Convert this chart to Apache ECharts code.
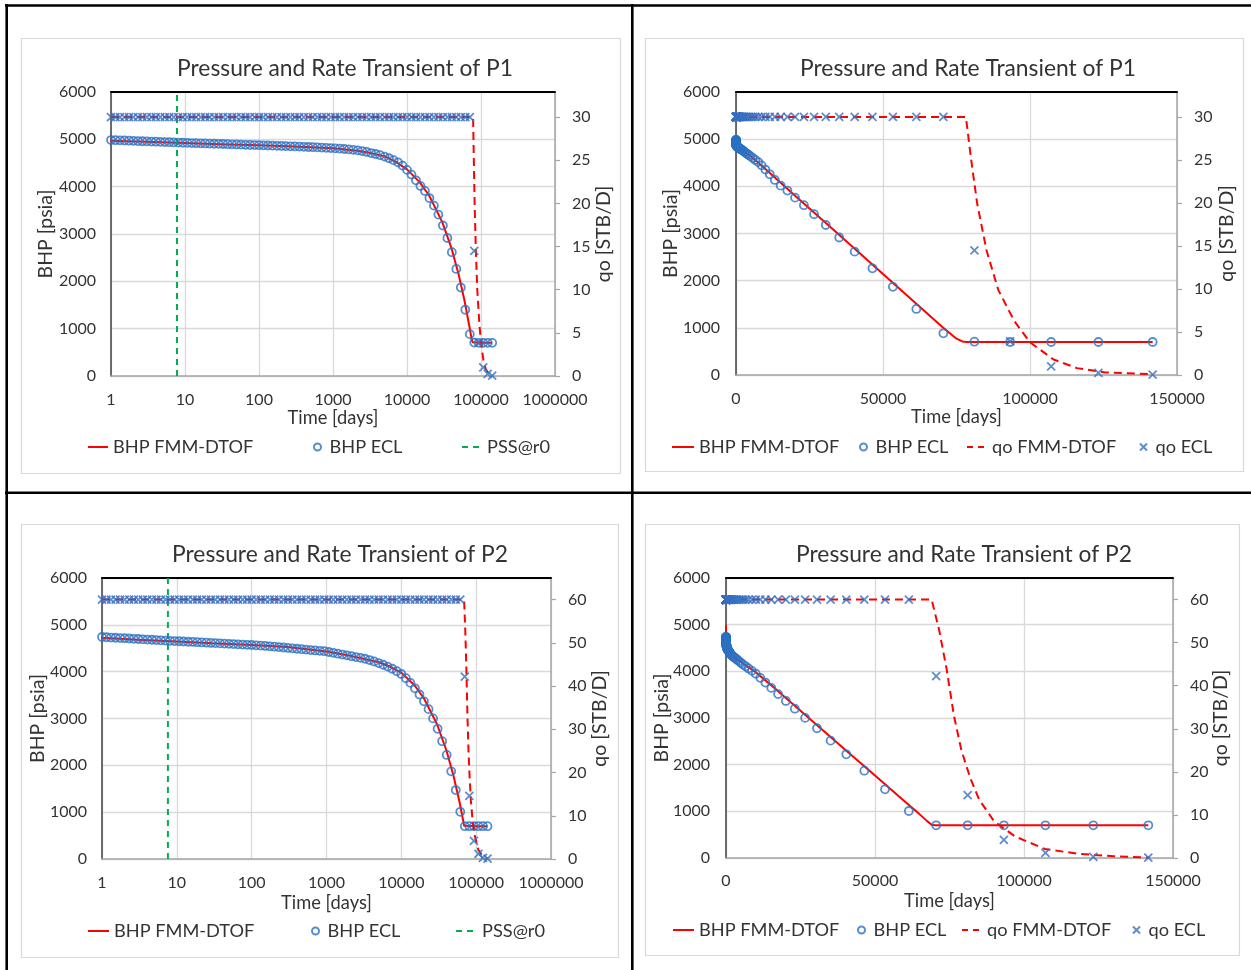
<!DOCTYPE html>
<html><head><meta charset="utf-8">
<script src="https://cdn.jsdelivr.net/npm/echarts@6/dist/echarts.min.js"></script>
<style>html,body{margin:0;padding:0;background:#fff}#c{width:1251px;height:970px}</style>
</head><body><div id="c"></div>
<script>
// ---- ECL report times [days] (shared by both wells) ----
const timeECL = [1,1.15,1.322,1.52,1.748,2.009,2.31,2.656,3.054,3.511,4.037,4.641,5.336,6.136,7.054,8.111,9.325,10.72,12.33,14.17,16.3,18.74,21.54,24.77,28.48,32.74,37.65,43.28,49.77,57.22,65.79,75.64,86.97,99.99,115,132.2,152,174.7,200.9,231,265.6,305.3,351.1,403.6,464.1,533.6,613.5,705.4,811,932.4,1072,1233,1417,1630,1874,2154,2477,2848,3274,3764,4328,4976,5721,6578,7563,8696,9998,11495,13217,15196,17472,20088,23097,26556,30532,35105,40362,46406,53356,61346,70533,81096,93240,107203,123257,141715];

// ---- P1 ----
const p1BhpECL = [4985,4982,4978,4975,4971,4968,4964,4960,4957,4953,4950,4946,4942,4939,4935,4932,4928,
  4925,4922,4919,4916,4913,4910,4907,4904,4901,4897,4894,4891,4888,4885,4882,4879,4876,
  4873,4870,4867,4863,4860,4857,4853,4850,4846,4842,4838,4834,4830,4825,4820,4815,
  4809,4803,4796,4788,4778,4766,4752,4733,
  4710,4690,4665,4635,4600,4560,4515,4445,4355,4255,4135,4015,3910,3760,3600,3410,3180,2915,2615,2262,1870,1400,884,706,700,700,700,700];
const p1QoECL = [30,30,30,30,30,30,30,30,30,30, 30,30,30,30,30,30,30,30,30,30,
  30,30,30,30,30,30,30,30,30,30, 30,30,30,30,30,30,30,30,30,30,
  30,30,30,30,30,30,30,30,30,30, 30,30,30,30,30,30,30,30,30,30,
  30,30,30,30,30,30,30,30,30,30, 30,30,30,30,30,30,30,30,30,30,
  30,14.5,3.9,1.0,0.25,0.05];
const p1FmmBhpTime = [0.01,1,3,10,30,100,300,1000,2000,3000,5000,7000,10000,15000,20000,30000,40000,50000,60000,70000,75000,77000,78500,100000,141715];
const p1FmmBhp     = [5000,4968,4948,4922,4898,4873,4849,4812,4765,4722,4640,4530,4365,4085,3808,3252,2696,2140,1584,1030,770,712,700,700,700];
const p1FmmQoTime  = [1,78200,80000,82000,85200,89200,94600,100000,108000,116000,125500,141700];
const p1FmmQo      = [30,30,25,20,14.5,9.9,6.3,3.8,1.8,0.8,0.3,0.1];
const p1PssTime = 7.8;

// ---- P2 ----
const p2BhpECL = [4740,4735,4729,4724,4718,4713,4708,4702,4697,4691,4686,4681,4675,4670,4664,4659,4654,
  4649,4644,4639,4634,4629,4624,4619,4614,4609,4604,4599,4594,4589,4584,4579,4574,4569,
  4563,4556,4549,4541,4533,4525,4516,4507,4498,4489,4480,4471,4462,4453,4445,4437,
  4420,4402,4384,4366,4348,4330,4312,4294,
  4276,4248,4218,4184,4148,4108,4062,4010,3950,3860,3760,3645,3512,3366,3200,3002,2780,2515,2222,1871,1472,1007,700,700,700,700,700,700];
const p2QoECL = [60,60,60,60,60,60,60,60,60,60, 60,60,60,60,60,60,60,60,60,60,
  60,60,60,60,60,60,60,60,60,60, 60,60,60,60,60,60,60,60,60,60,
  60,60,60,60,60,60,60,60,60,60, 60,60,60,60,60,60,60,60,60,60,
  60,60,60,60,60,60,60,60,60,60, 60,60,60,60,60,60,60,60,60,60,
  42.2,14.6,4.2,1.2,0.25,0.1];
const p2FmmBhpTime = [0.01,1,3,10,30,100,300,1000,2000,3000,5000,7000,10000,15000,20000,30000,40000,50000,60000,65000,67500,69000,70000,100000,141715];
const p2FmmBhp     = [5000,4722,4683,4645,4607,4568,4525,4430,4345,4282,4200,4110,3980,3710,3432,2878,2322,1767,1212,935,790,712,700,700,700];
const p2FmmQoTime  = [1,69000,71500,74000,76500,79000,82000,85000,90000,97000,107000,118000,130000,142000];
const p2FmmQo      = [60,60,53,44,33,25,18.5,13.5,8.5,5,2.1,1.0,0.4,0.1];
const p2PssTime = 7.6;

// ---- axis limits ----
const bhpAxis = {min:0, max:6000, interval:1000};
const logTime = {min:1, max:1000000};
const linTime = {min:0, max:150000, interval:50000};
const qoAxisP1 = {min:0, max:32.9, interval:5};
const qoAxisP2 = {min:0, max:65, interval:10};

const pairs = (t, v) => t.map((x, i) => [x, v[i]]);
const FONT = 'Lato';
const TXT = '#333';
const RED = '#FF0000', BLUE = '#2B72C2', XBLUE = '#3670C2', GREEN = '#00B050';
const CROSS = 'path://M0,0L10,10M10,0L0,10';

const panels = [
  {well:'P1', log:true,  grid:{left:111, top:92, width:444, height:284}, titleX:345, titleY:69, qo:qoAxisP1,
   bhpT:p1FmmBhpTime, bhp:p1FmmBhp, qoT:p1FmmQoTime, qoV:p1FmmQo, eB:p1BhpECL, eQ:p1QoECL, pss:p1PssTime,
   gapL:55, gapR:39, gapX:33, mL:15, mR:17, mX:16},
  {well:'P1', log:false, grid:{left:736, top:92, width:441, height:283}, titleX:968, titleY:69, qo:qoAxisP1,
   bhpT:p1FmmBhpTime, bhp:p1FmmBhp, qoT:p1FmmQoTime, qoV:p1FmmQo, eB:p1BhpECL, eQ:p1QoECL,
   gapL:55, gapR:40, gapX:33, mL:16, mR:17, mX:16},
  {well:'P2', log:true,  grid:{left:102, top:578, width:449, height:281}, titleX:340, titleY:555, qo:qoAxisP2,
   bhpT:p2FmmBhpTime, bhp:p2FmmBhp, qoT:p2FmmQoTime, qoV:p2FmmQo, eB:p2BhpECL, eQ:p2QoECL, pss:p2PssTime,
   gapL:54, gapR:39, gapX:35, mL:15, mR:17, mX:16},
  {well:'P2', log:false, grid:{left:726, top:578, width:447, height:280}, titleX:964, titleY:555, qo:qoAxisP2,
   bhpT:p2FmmBhpTime, bhp:p2FmmBhp, qoT:p2FmmQoTime, qoV:p2FmmQo, eB:p2BhpECL, eQ:p2QoECL,
   gapL:54, gapR:38, gapX:34, mL:16, mR:17, mX:15}
];

const fmtNum = v => String(Number(Number(v).toPrecision(6)));

const grid = [], xAxis = [], yAxis = [], series = [], title = [];
panels.forEach((p, i) => {
  grid.push(Object.assign({containLabel:false, outerBoundsMode:'none'}, p.grid));
  title.push({text:'Pressure and Rate Transient of ' + p.well, left:p.titleX, top:p.titleY,
    textAlign:'center', textVerticalAlign:'middle', padding:0,
    textStyle:{fontFamily:FONT, fontSize:22.8, fontWeight:'normal', color:TXT}});
  const xa = {gridIndex:i, position:'bottom', name:'Time [days]', nameLocation:'middle', nameGap:p.gapX,
    nameMoveOverlap:false,
    nameTextStyle:{fontFamily:FONT, fontSize:18.3, color:TXT},
    axisLine:{show:true, onZero:false, lineStyle:{color:'#A6A6A6', width:1.5}},
    axisTick:{show:false},
    axisLabel:{margin:p.mX, fontFamily:FONT, fontSize:16, color:TXT, formatter:fmtNum},
    splitLine:{show:true, lineStyle:{color:'#D9D9D9', width:1.3}}};
  if (p.log) Object.assign(xa, {type:'log', logBase:10, min:logTime.min, max:logTime.max});
  else Object.assign(xa, {type:'value', min:linTime.min, max:linTime.max, interval:linTime.interval});
  xAxis.push(xa);
  xAxis.push({gridIndex:i, type:'value', position:'top', min:0, max:1,
    axisLine:{show:true, onZero:false, lineStyle:{color:'#000', width:2}},
    axisTick:{show:false}, axisLabel:{show:false}, splitLine:{show:false}});
  yAxis.push({gridIndex:i, type:'value', position:'left', min:bhpAxis.min, max:bhpAxis.max, interval:bhpAxis.interval,
    name:'BHP [psia]', nameLocation:'middle', nameGap:p.gapL, nameRotate:90, nameMoveOverlap:false,
    nameTextStyle:{fontFamily:FONT, fontSize:19.5, color:TXT},
    axisLine:{show:true, onZero:false, lineStyle:{color:'#404040', width:1.5}},
    axisTick:{show:false},
    axisLabel:{margin:p.mL, fontFamily:FONT, fontSize:16, color:TXT, formatter:fmtNum},
    splitLine:{show:true, lineStyle:{color:'#D9D9D9', width:1.3}}});
  yAxis.push({gridIndex:i, type:'value', position:'right', min:p.qo.min, max:p.qo.max, interval:p.qo.interval,
    name:'qo [STB/D]', nameLocation:'middle', nameGap:p.gapR, nameRotate:90, nameMoveOverlap:false,
    nameTextStyle:{fontFamily:FONT, fontSize:19.5, color:TXT},
    axisLine:{show:true, onZero:false, lineStyle:{color:'#A6A6A6', width:1.5}},
    axisTick:{show:true, inside:false, length:5, lineStyle:{color:'#A6A6A6', width:1.2}},
    axisLabel:{margin:p.mR, fontFamily:FONT, fontSize:16, color:TXT, formatter:fmtNum, showMaxLabel:false},
    splitLine:{show:false}});
  const xi = 2*i, yl = 2*i, yr = 2*i+1;
  series.push({name:'BHP FMM-DTOF', type:'line', xAxisIndex:xi, yAxisIndex:yl, data:pairs(p.bhpT, p.bhp),
    symbol:'none', showSymbol:false, lineStyle:{color:RED, width:2}, itemStyle:{color:RED}, z:3});
  series.push({name:'BHP ECL', type:'scatter', xAxisIndex:xi, yAxisIndex:yl, data:pairs(timeECL, p.eB),
    symbol:'circle', symbolSize:8, itemStyle:{color:'rgba(0,0,0,0)', borderColor:BLUE, borderWidth:1.8}, z:4});
  if (p.pss !== undefined) {
    series.push({name:'PSS@r0', type:'line', xAxisIndex:xi, yAxisIndex:yl, data:[[p.pss, bhpAxis.min],[p.pss, bhpAxis.max]],
      symbol:'none', showSymbol:false, lineStyle:{color:GREEN, width:2, type:[6,5]}, itemStyle:{color:GREEN}, z:3});
  }
  series.push({name:'qo FMM-DTOF', type:'line', xAxisIndex:xi, yAxisIndex:yr, data:pairs(p.qoT, p.qoV),
    symbol:'none', showSymbol:false, lineStyle:{color:RED, width:2, type:[8,5]}, itemStyle:{color:RED}, z:5});
  series.push({name:'qo ECL', type:'scatter', xAxisIndex:xi, yAxisIndex:yr, data:pairs(timeECL, p.eQ),
    symbol:CROSS, symbolSize:8, itemStyle:{color:XBLUE, borderColor:XBLUE, borderWidth:1.8}, z:6});
});

const legTxt = {fontFamily:FONT, fontSize:18.2, color:TXT, lineHeight:20};
const leg = (name, left, cy, w, h, dash) => {
  const o = {data:[name], left:left, top:cy-10, itemWidth:w, itemHeight:h, itemGap:0,
    padding:0, selectedMode:false, textStyle:legTxt};
  if (dash !== undefined) {
    o.itemStyle = {opacity:0};
    o.lineStyle = {width:2, type:dash};
  }
  return o;
};
const legend = [
  leg('BHP FMM-DTOF', 87, 447, 20, 14, 'solid'), leg('BHP ECL', 313, 447, 14, 7), leg('PSS@r0', 461, 447, 20, 14, [6,5]),
  leg('BHP FMM-DTOF', 671, 447, 22, 14, 'solid'), leg('BHP ECL', 859, 447, 14, 7), leg('qo FMM-DTOF', 966, 447, 20, 14, [6,5]), leg('qo ECL', 1139, 447, 14, 7),
  leg('BHP FMM-DTOF', 87, 931, 21, 14, 'solid'), leg('BHP ECL', 311, 931, 14, 7), leg('PSS@r0', 455, 931, 21, 14, [6,5]),
  leg('BHP FMM-DTOF', 672, 930, 21, 14, 'solid'), leg('BHP ECL', 857, 930, 14, 7), leg('qo FMM-DTOF', 961, 930, 20, 14, [6,5]), leg('qo ECL', 1132, 930, 14, 7)
];

const boxes = [[21.5,38.5,599,435],[645.5,38.5,598,433],[21.5,524.5,597,433],[645.5,524.5,594,431]];
const graphicEls = boxes.map(b => ({type:'rect', z:-10, silent:true, shape:{x:b[0], y:b[1], width:b[2], height:b[3]},
  style:{fill:'none', stroke:'#D9D9D9', lineWidth:1.2}}));
[[5,5.5,1251,5.5],[6.7,4,6.7,970],[632.3,4,632.3,970],[5,492.7,1251,492.7]].forEach(l => graphicEls.push(
  {type:'line', z:-5, silent:true, shape:{x1:l[0], y1:l[1], x2:l[2], y2:l[3]}, style:{stroke:'#000', lineWidth:2.6}}));

const chart = echarts.init(document.getElementById('c'), null, {renderer:'canvas'});
chart.setOption({
  animation:false, backgroundColor:'#fff', textStyle:{fontFamily:FONT},
  title, grid, xAxis, yAxis, series, legend, graphic:{elements:graphicEls}
});
</script></body></html>
